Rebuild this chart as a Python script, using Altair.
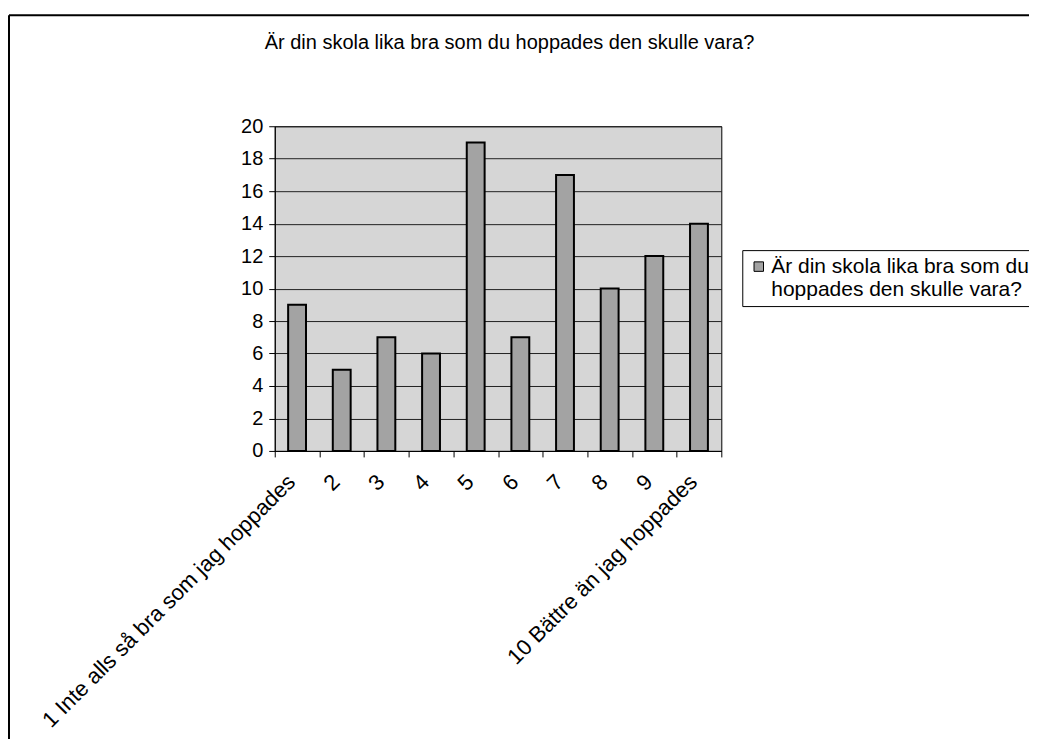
import altair as alt
import pandas as pd
import json

categories = ["1 Inte alls så bra som jag hoppades", "2", "3", "4", "5",
              "6", "7", "8", "9", "10 Bättre än jag hoppades"]
values = [9, 5, 7, 6, 19, 7, 17, 10, 12, 14]
series_name = "Är din skola lika bra som du hoppades den skulle vara?"
legend_lines = ["Är din skola lika bra som du", "hoppades den skulle vara?"]
title_text = "Är din skola lika bra som du hoppades den skulle vara?"
y_ticks = [0, 2, 4, 6, 8, 10, 12, 14, 16, 18, 20]

FONT = "Liberation Sans"

df = pd.DataFrame({"cat": categories, "val": values,
                   "series": [series_name] * len(values)})

bars = alt.Chart(df).mark_bar(stroke="black", strokeWidth=2,
                              width=alt.RelativeBandSize(0.4)).encode(
    x=alt.X("cat:N", sort=categories,
            scale=alt.Scale(paddingInner=0, paddingOuter=0),
            axis=alt.Axis(title=None, labelAngle=-45, labelFontSize=22,
                          labelFont=FONT, labelColor="black",
                          labelPadding=14, labelOffset=-13, labelLimit=0,
                          tickBand="extent", tickSize=6,
                          tickColor="black", domainColor="black",
                          grid=False)),
    y=alt.Y("val:Q", scale=alt.Scale(domain=[0, 20], nice=False),
            axis=alt.Axis(title=None, values=y_ticks, labelFontSize=20,
                          labelFont=FONT, labelColor="black",
                          labelPadding=6, tickSize=6, tickColor="black",
                          domainColor="black", grid=True,
                          gridColor="#222222", gridWidth=1)),
    color=alt.Color("series:N",
                    scale=alt.Scale(range=["#a3a3a3"]),
                    legend=alt.Legend(
                        title=None, orient="none", legendX=468, legendY=124,
                        strokeColor="black", padding=6,
                        symbolType="square", symbolSize=90,
                        symbolStrokeColor="black", symbolStrokeWidth=1,
                        symbolOffset=0, labelOffset=2,
                        labelFont=FONT, labelFontSize=21, labelColor="black",
                        labelLimit=0,
                        labelExpr=json.dumps(legend_lines))),
)

frame_df = pd.DataFrame({"k": [0]})
left_border = alt.Chart(frame_df).mark_rule(color="black", strokeWidth=2).encode(
    x=alt.value(-266), y=alt.value(-111), y2=alt.value(623))
top_border = alt.Chart(frame_df).mark_rule(color="black", strokeWidth=2).encode(
    y=alt.value(-111), x=alt.value(-266), x2=alt.value(770))
title_mark = alt.Chart(frame_df).mark_text(
    text=title_text, font=FONT, fontSize=20, color="black",
    align="center", baseline="alphabetic").encode(
    x=alt.value(235), y=alt.value(-77))

chart = alt.layer(bars, left_border, top_border, title_mark).properties(
    width=447, height=325,
    autosize=alt.AutoSizeParams(type="none"),
    padding={"left": 267, "top": 118, "right": 308, "bottom": 288},
    background="white",
).configure_view(fill="#d6d6d6", stroke="black", strokeWidth=1)

chart.save("out.html", embed_options={"renderer": "svg", "actions": False})
